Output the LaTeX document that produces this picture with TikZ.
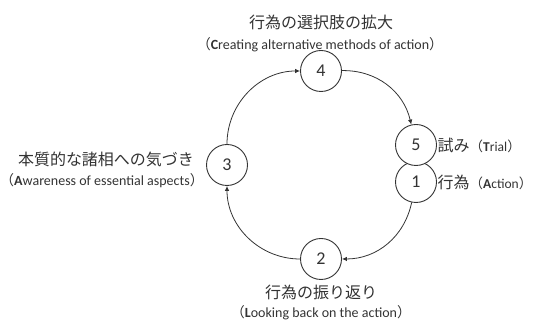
\documentclass[tikz,border=0pt]{standalone}
\usepackage{fontspec}
\setmainfont{Carlito}
\newfontfamily\jp{Noto Sans CJK JP}
\usetikzlibrary{arrows.meta}
\definecolor{ink}{gray}{0.2}
\begin{document}
\begin{tikzpicture}[x=1pt,y=1pt,
  stage/.style={circle,draw=ink,line width=0.9pt,fill=white,minimum size=41pt,inner sep=0pt,font=\fontsize{18}{18}\selectfont,text=ink},
  jlabel/.style={font=\jp\fontsize{16}{16}\selectfont,text=ink,inner sep=0pt},
  elabel/.style={font=\fontsize{14}{14}\selectfont,text=ink,inner sep=0pt},
  rlabel/.style={font=\fontsize{13.5}{13.5}\selectfont,text=ink,inner sep=0pt,anchor=west},
  flow/.style={draw=ink,line width=0.8pt,-{Latex[length=5pt,width=4.5pt]}}]
\useasboundingbox (0,0) rectangle (533,320);
\node[stage] (n4) at (321,249) {4};
\node[stage] (n2) at (321,61) {2};
\node[stage] (n3) at (227,155) {3};
\node[stage] (n1) at (416,138) {1};
\node[stage] (n5) at (416,175) {5};
\draw[flow] (n4) to[bend left=39] (n5);
\draw[flow] (n1) to[bend left=39] (n2);
\draw[flow] (n2) to[bend left=45] (n3);
\draw[flow] (n3) to[bend left=45] (n4);
\node[jlabel] (t4) at (321,298) {行為の選択肢の拡大};
\node[elabel] (e4) at (320,275) {{\jp （}\textbf{C}reating alternative methods of action{\jp ）}};
\node[jlabel] (t3) at (106,161) {本質的な諸相への気づき};
\node[elabel] (e3) at (102,139) {{\jp （}\textbf{A}wareness of essential aspects{\jp ）}};
\node[rlabel] (t5) at (437.5,175) {{\jp\fontsize{16}{16}\selectfont 試み}{\jp （}\textbf{T}rial{\jp ）}};
\node[rlabel] (t1) at (437.5,138) {{\jp\fontsize{16}{16}\selectfont 行為}{\jp （}\textbf{A}ction{\jp ）}};
\node[jlabel] (t2) at (321,28) {行為の振り返り};
\node[elabel] (e2) at (321,7.5) {{\jp （}\textbf{L}ooking back on the action{\jp ）}};
\end{tikzpicture}
\end{document}
